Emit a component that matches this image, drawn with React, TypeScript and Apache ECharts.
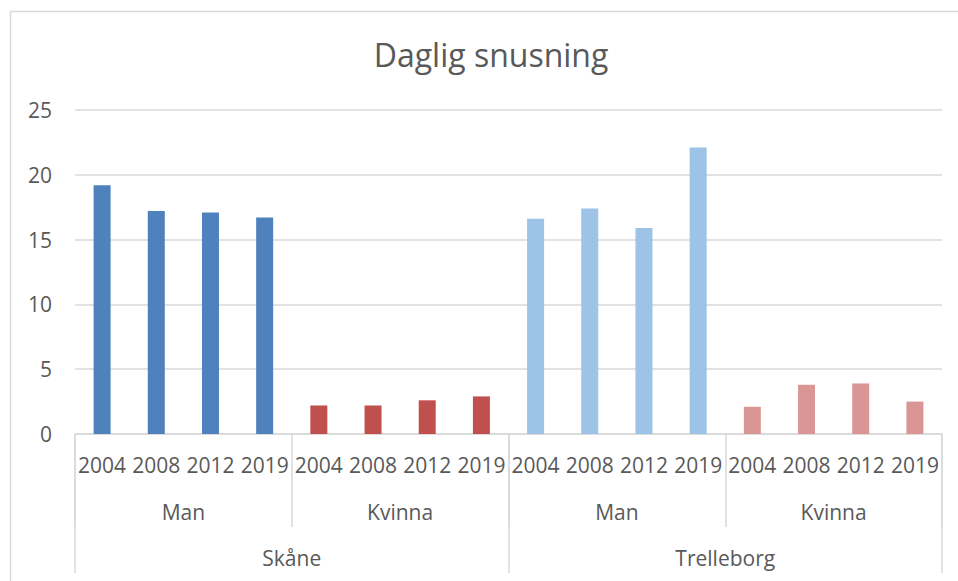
import React, { useEffect, useRef } from "react";
import * as echarts from "echarts";

const years = ["2004", "2008", "2012", "2019"];
const sexes = ["Man", "Kvinna"];
const regions = ["Skåne", "Trelleborg"];

const skaneMan = [19.2, 17.2, 17.1, 16.7];
const skaneKvinna = [2.2, 2.2, 2.6, 2.9];
const trelleborgMan = [16.6, 17.4, 15.9, 22.1];
const trelleborgKvinna = [2.1, 3.8, 3.9, 2.5];

const groupColors = ["#4f81bd", "#c0504d", "#9dc3e6", "#da9694"];
const yTicks = [0, 5, 10, 15, 20, 25];

const FONT = "'Open Sans', sans-serif";
const TXT = "#595959";
const GRID = "#d9d9d9";

export default function App() {
  const ref = useRef<HTMLDivElement>(null);
  useEffect(() => {
    if (!ref.current) return;
    const chart = echarts.init(ref.current, undefined, { renderer: "svg" });
    const groups = [skaneMan, skaneKvinna, trelleborgMan, trelleborgKvinna];
    const yearCats: string[] = [];
    const data: any[] = [];
    groups.forEach((g, gi) => {
      g.forEach((v, i) => {
        yearCats.push(years[i]);
        data.push({ value: v, itemStyle: { color: groupColors[gi] } });
      });
    });
    const sexCats: string[] = [];
    regions.forEach(() => sexes.forEach((s) => sexCats.push(s)));

    chart.setOption({
      animation: false,
      backgroundColor: "#ffffff",
      title: {
        text: "Daglig snusning",
        left: 486,
        top: 33,
        textAlign: "center",
        textStyle: { fontFamily: FONT, fontSize: 32, fontWeight: "normal", color: TXT },
      },
      graphic: [
        {
          type: "rect",
          shape: { x: 10.5, y: 11.5, width: 1000, height: 1000 },
          style: { fill: "none", stroke: GRID, lineWidth: 1.5 },
          silent: true,
        },
      ],
      grid: { left: 75, right: 16, top: 110, bottom: 147 },
      yAxis: {
        type: "value",
        min: yTicks[0],
        max: yTicks[yTicks.length - 1],
        interval: 5,
        axisLine: { show: false },
        axisTick: { show: false },
        axisLabel: { fontFamily: FONT, fontSize: 21, color: TXT, margin: 23 },
        splitLine: { lineStyle: { color: GRID, width: 1.5 } },
      },
      xAxis: [
        {
          type: "category",
          data: yearCats,
          position: "bottom",
          axisLine: { show: true, lineStyle: { color: GRID, width: 1.5 } },
          axisTick: { show: false },
          axisLabel: {
            interval: 0,
            fontFamily: FONT,
            fontSize: 21,
            color: TXT,
            margin: 20,
            hideOverlap: false,
          },
        },
        {
          type: "category",
          data: sexCats,
          position: "bottom",
          axisLine: { show: false },
          axisTick: { show: true, length: 93, interval: 0, lineStyle: { color: GRID, width: 1.5 } },
          axisLabel: { interval: 0, fontFamily: FONT, fontSize: 21, color: TXT, margin: 67 },
        },
        {
          type: "category",
          data: regions,
          position: "bottom",
          axisLine: { show: false },
          axisTick: { show: true, length: 139, interval: 0, lineStyle: { color: GRID, width: 1.5 } },
          axisLabel: { interval: 0, fontFamily: FONT, fontSize: 21, color: TXT, margin: 113 },
        },
      ],
      series: [
        {
          type: "bar",
          xAxisIndex: 0,
          barWidth: 17,
          data,
        },
      ],
    });
    return () => chart.dispose();
  }, []);
  return (
    <div style={{ position: "fixed", left: 0, top: 0, width: 958, height: 581, background: "#fff" }}>
      <div ref={ref} style={{ width: 958, height: 581 }} />
    </div>
  );
}
